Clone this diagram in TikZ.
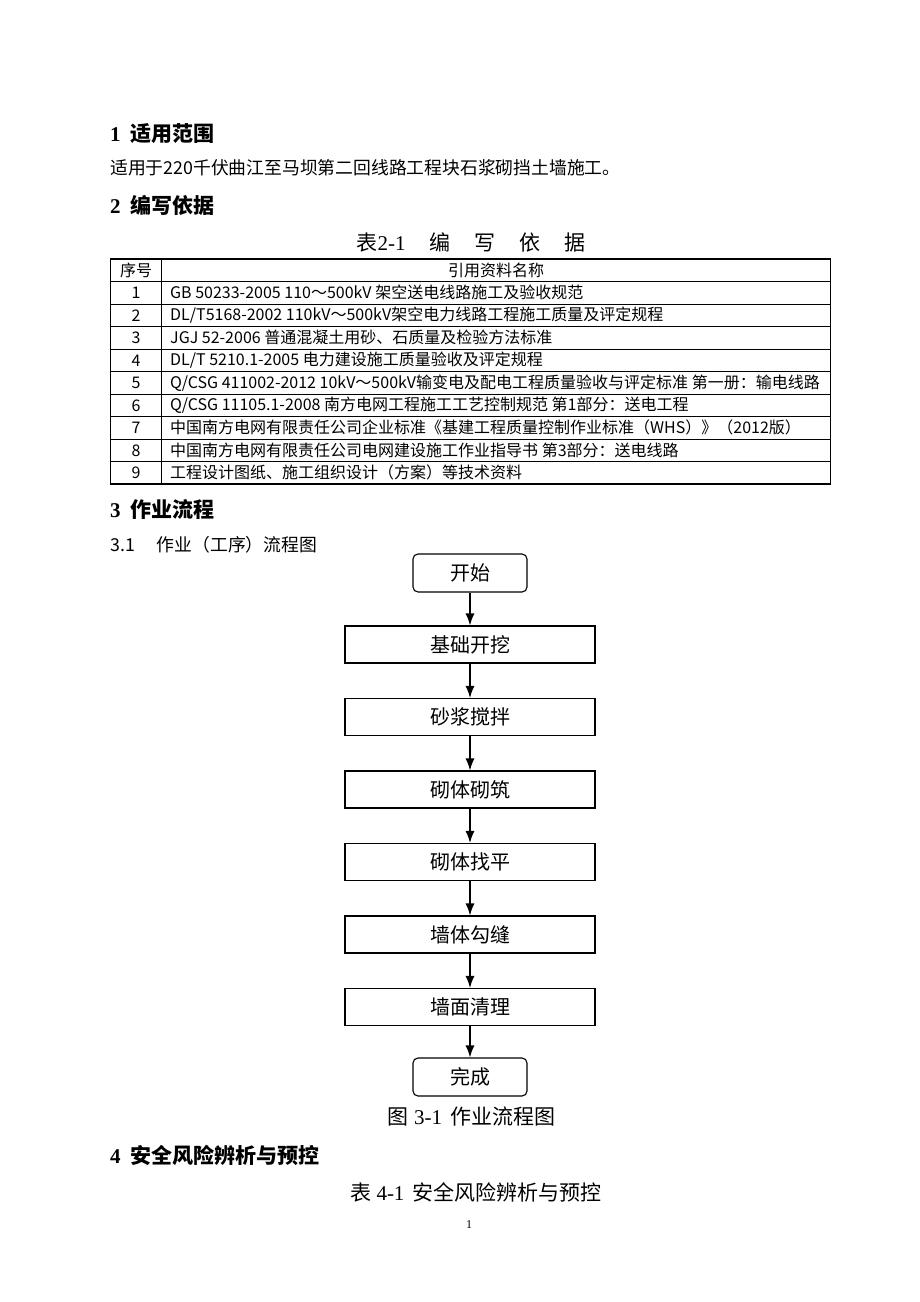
\documentclass[tikz,border=0pt]{standalone}
\usepackage{fontspec}
\setmainfont{Liberation Serif}
\newfontfamily\zh{Noto Sans CJK SC}
\usetikzlibrary{arrows.meta}

\tikzset{
    heading/.style={anchor=west,inner sep=0pt,font=\fontsize{21}{21}\selectfont\bfseries},
    bodytext/.style={anchor=west,inner sep=0pt,font=\zh\fontsize{17.8}{18}\selectfont},
    captxt/.style={inner sep=0pt,font=\fontsize{21}{21}\selectfont},
    celltxt/.style={anchor=west,inner sep=0pt,font=\zh\fontsize{16}{16}\selectfont},
    numtxt/.style={inner sep=0pt,font=\zh\fontsize{16}{16}\selectfont},
    stepbox/.style={draw,line width=1.1pt,minimum width=250pt,minimum height=37pt,font=\zh\fontsize{20}{20}\selectfont},
    endbox/.style={draw,line width=1.1pt,rounded corners=5pt,minimum width=114pt,minimum height=38pt,font=\zh\fontsize{20}{20}\selectfont},
    flow/.style={-{Latex[length=12pt,width=9pt]},line width=1.3pt}
}

\begin{document}
\begin{tikzpicture}[x=1pt,y=-1pt]
            \useasboundingbox (0,0) rectangle (920,1302);
            \fill[white] (0,0) rectangle (920,1302);
            % sections 1 and 2
            \node[heading] at (110,134) (sec1) {1\hspace{10pt}{\zh 适用范围}};
            \node[bodytext] at (110,168) (scope) {适用于220千伏曲江至马坝第二回线路工程块石浆砌挡土墙施工。};
            \node[heading] at (110,205) (sec2) {2\hspace{10pt}{\zh 编写依据}};
            \node[captxt] at (471,242) (tab21) {{\zh 表}2-1\hspace{24pt}{\zh 编}\hspace{24pt}{\zh 写}\hspace{24pt}{\zh 依}\hspace{24pt}{\zh 据}};
            % table 2-1
            \draw[line width=1.6pt] (110.5,259) rectangle (830.5,484);
            \draw[line width=0.8pt] (161.5,259) -- (161.5,484);
            \draw[line width=0.8pt] (110.5,281.5) -- (830.5,281.5)
                (110.5,304) -- (830.5,304)
                (110.5,326.5) -- (830.5,326.5)
                (110.5,349) -- (830.5,349)
                (110.5,371.5) -- (830.5,371.5)
                (110.5,394) -- (830.5,394)
                (110.5,416.5) -- (830.5,416.5)
                (110.5,439) -- (830.5,439)
                (110.5,461.5) -- (830.5,461.5);
            \node[numtxt] at (136,270.3) (hno) {序号};
            \node[numtxt] at (496,270.3) (hname) {引用资料名称};
            \node[numtxt] at (136,292.8) (n1) {1};
            \node[celltxt] at (170,292.8) (r1) {GB 50233-2005 110～500kV 架空送电线路施工及验收规范};
            \node[numtxt] at (136,315.3) (n2) {2};
            \node[celltxt] at (170,315.3) (r2) {DL/T5168-2002 110kV～500kV架空电力线路工程施工质量及评定规程};
            \node[numtxt] at (136,337.8) (n3) {3};
            \node[celltxt] at (170,337.8) (r3) {JGJ 52-2006 普通混凝土用砂、石质量及检验方法标准};
            \node[numtxt] at (136,360.3) (n4) {4};
            \node[celltxt] at (170,360.3) (r4) {DL/T 5210.1-2005 电力建设施工质量验收及评定规程};
            \node[numtxt] at (136,382.8) (n5) {5};
            \node[celltxt] at (170,382.8) (r5) {Q/CSG 411002-2012 10kV～500kV输变电及配电工程质量验收与评定标准 第一册：输电线路};
            \node[numtxt] at (136,405.3) (n6) {6};
            \node[celltxt] at (170,405.3) (r6) {Q/CSG 11105.1-2008 南方电网工程施工工艺控制规范 第1部分：送电工程};
            \node[numtxt] at (136,427.8) (n7) {7};
            \node[celltxt] at (170,427.8) (r7) {中国南方电网有限责任公司企业标准《基建工程质量控制作业标准（WHS）》（2012版）};
            \node[numtxt] at (136,450.3) (n8) {8};
            \node[celltxt] at (170,450.3) (r8) {中国南方电网有限责任公司电网建设施工作业指导书 第3部分：送电线路};
            \node[numtxt] at (136,472.8) (n9) {9};
            \node[celltxt] at (170,472.8) (r9) {工程设计图纸、施工组织设计（方案）等技术资料};
            % section 3
            \node[heading] at (110,509) (sec3) {3\hspace{10pt}{\zh 作业流程}};
            \node[bodytext] at (110,545) (sub31) {3.1\hspace{22pt}作业（工序）流程图};
            \node[endbox] at (470,573) (start) {开始};
            \node[stepbox] at (470,644.5) (dig) {基础开挖};
            \node[stepbox] at (470,717) (mix) {砂浆搅拌};
            \node[stepbox] at (470,789.5) (lay) {砌体砌筑};
            \node[stepbox] at (470,862) (level) {砌体找平};
            \node[stepbox] at (470,934.5) (joint) {墙体勾缝};
            \node[stepbox] at (470,1007) (clean) {墙面清理};
            \node[endbox] at (470,1077) (finish) {完成};
            \draw[flow] (start) to (dig);
            \draw[flow] (dig) to (mix);
            \draw[flow] (mix) to (lay);
            \draw[flow] (lay) to (level);
            \draw[flow] (level) to (joint);
            \draw[flow] (joint) to (clean);
            \draw[flow] (clean) to (finish);
            \node[captxt] at (471,1117) (fig31) {{\zh 图}\hspace{6pt}3-1\hspace{8pt}{\zh 作业流程图}};
            % section 4
            \node[heading] at (110,1155) (sec4) {4\hspace{10pt}{\zh 安全风险辨析与预控}};
            \node[captxt] at (476,1192) (tab41) {{\zh 表}\hspace{5pt}4-1\hspace{8pt}{\zh 安全风险辨析与预控}};
            \node[inner sep=0pt,font=\fontsize{12}{12}\selectfont] at (469,1225) (page) {1};
        \end{tikzpicture}
\end{document}
